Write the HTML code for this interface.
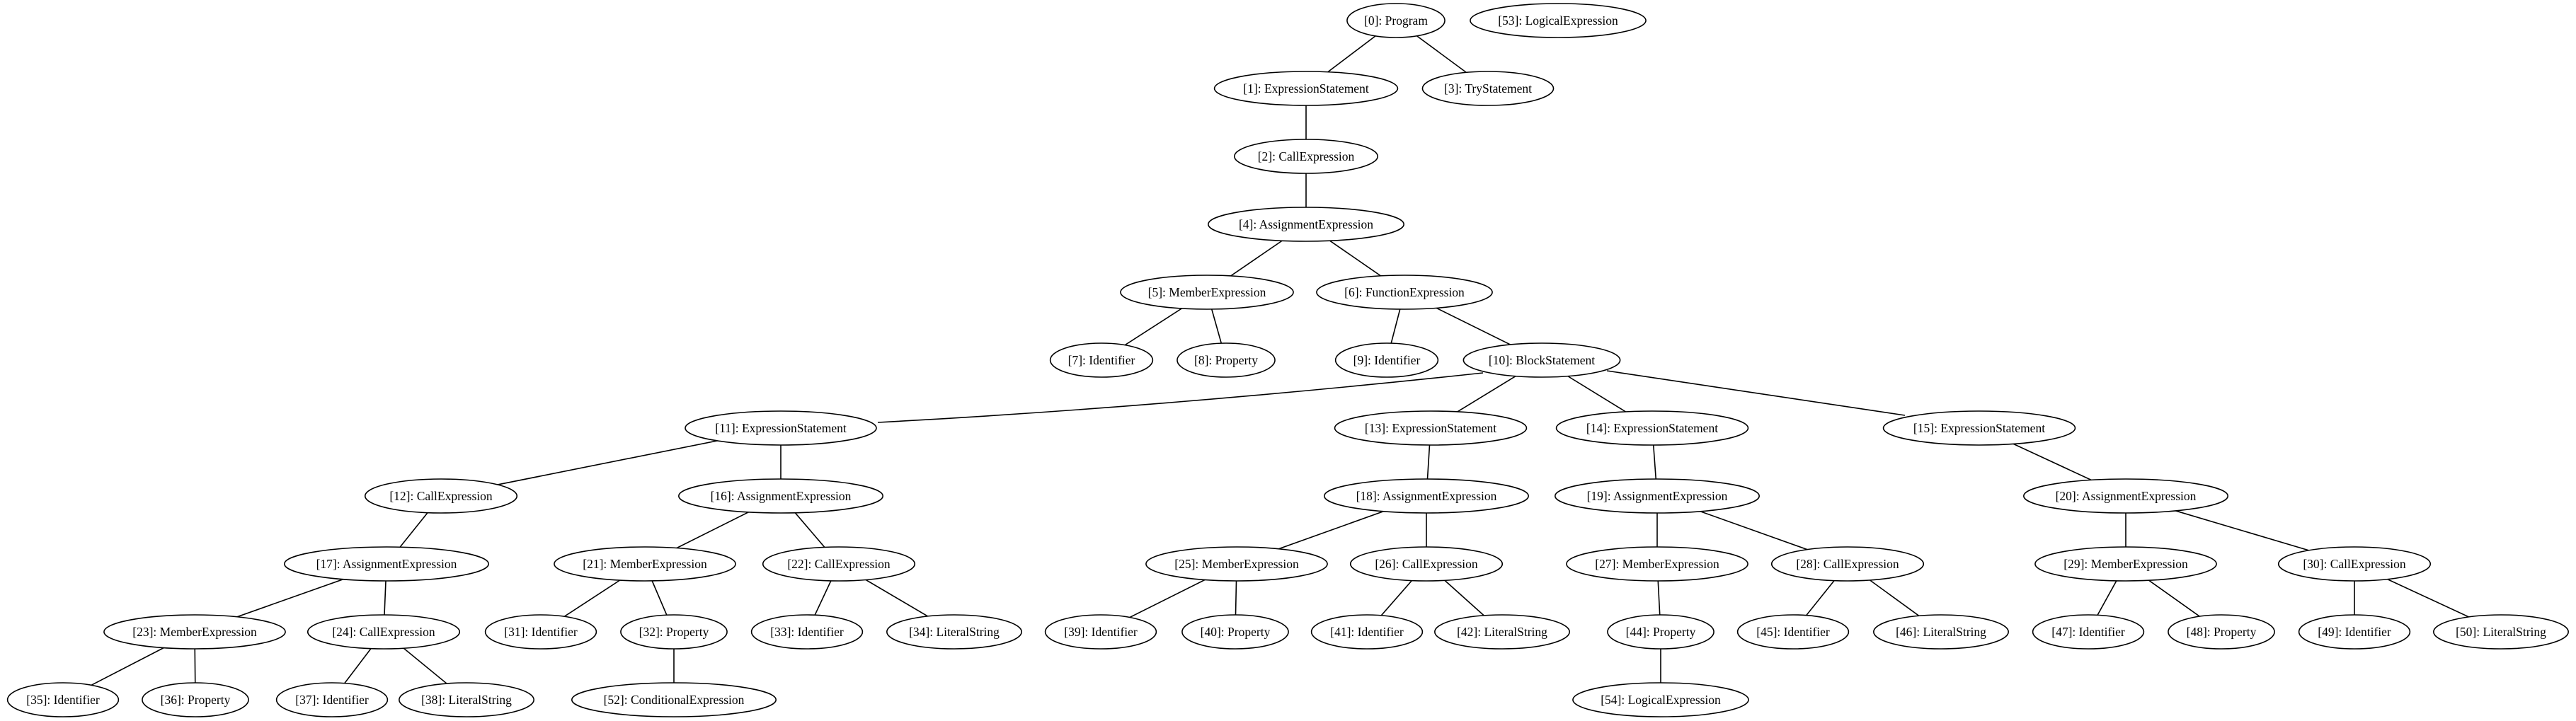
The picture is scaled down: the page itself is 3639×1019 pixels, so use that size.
<!DOCTYPE html>
<html><head><meta charset="utf-8"><style>
html,body{margin:0;padding:0;background:#fff;}
svg{display:block;}
text{font-family:"Liberation Serif","Times New Roman",serif;font-size:17.5px;fill:#000;}
</style></head><body>
<svg id="g" width="3639" height="1019" viewBox="0 0 3639 1019" xmlns="http://www.w3.org/2000/svg">
<rect width="3639" height="1019" fill="#fff"/>
<g id="edges" stroke="#000" stroke-width="1.6" fill="none">
<path d="M2095,527 Q1650,575 1240,597"/>
<path d="M2270,524 Q2480,555 2691,587"/>
</g>
<g id="nodes"></g>
</svg>
<script>
var N={
0:[1972,0,"Program"],53:[2201,0,"LogicalExpression"],
1:[1845,1,"ExpressionStatement"],3:[2102,1,"TryStatement"],
2:[1845,2,"CallExpression"],
4:[1845,3,"AssignmentExpression"],
5:[1705,4,"MemberExpression"],6:[1984,4,"FunctionExpression"],
7:[1556,5,"Identifier"],8:[1732,5,"Property"],9:[1959,5,"Identifier"],10:[2178,5,"BlockStatement"],
11:[1103,6,"ExpressionStatement"],13:[2021,6,"ExpressionStatement"],14:[2334,6,"ExpressionStatement"],15:[2796,6,"ExpressionStatement"],
12:[623,7,"CallExpression"],16:[1103,7,"AssignmentExpression"],18:[2015,7,"AssignmentExpression"],19:[2341,7,"AssignmentExpression"],20:[3003,7,"AssignmentExpression"],
17:[546,8,"AssignmentExpression"],21:[911,8,"MemberExpression"],22:[1185,8,"CallExpression"],25:[1747,8,"MemberExpression"],26:[2015,8,"CallExpression"],27:[2341,8,"MemberExpression"],28:[2610,8,"CallExpression"],29:[3003,8,"MemberExpression"],30:[3326,8,"CallExpression"],
23:[275,9,"MemberExpression"],24:[542,9,"CallExpression"],31:[764,9,"Identifier"],32:[952,9,"Property"],33:[1140,9,"Identifier"],34:[1348,9,"LiteralString"],39:[1555,9,"Identifier"],40:[1745,9,"Property"],41:[1931,9,"Identifier"],42:[2122,9,"LiteralString"],44:[2346,9,"Property"],45:[2533,9,"Identifier"],46:[2742,9,"LiteralString"],47:[2950,9,"Identifier"],48:[3138,9,"Property"],49:[3326,9,"Identifier"],50:[3533,9,"LiteralString"],
35:[89,10,"Identifier"],36:[276,10,"Property"],37:[469,10,"Identifier"],38:[659,10,"LiteralString"],52:[952,10,"ConditionalExpression"],54:[2346,10,"LogicalExpression"]
};
var E=[[0,1],[0,3],[1,2],[2,4],[4,5],[4,6],[5,7],[5,8],[6,9],[6,10],[10,13],[10,14],
[11,12],[11,16],[12,17],[16,21],[16,22],[13,18],[14,19],[15,20],[17,23],[17,24],[21,31],[21,32],[22,33],[22,34],
[18,25],[18,26],[19,27],[19,28],[20,29],[20,30],[23,35],[23,36],[24,37],[24,38],[32,52],[25,39],[25,40],[26,41],[26,42],
[27,44],[28,45],[28,46],[29,47],[29,48],[30,49],[30,50],[44,54]];
var NS="http://www.w3.org/2000/svg";
function Y(l){return 29+96*l;}
var eg=document.getElementById("edges"),ng=document.getElementById("nodes");
E.forEach(function(e){var a=N[e[0]],b=N[e[1]];var l=document.createElementNS(NS,"line");
l.setAttribute("x1",a[0]);l.setAttribute("y1",Y(a[1]));l.setAttribute("x2",b[0]);l.setAttribute("y2",Y(b[1]));eg.appendChild(l);});
Object.keys(N).forEach(function(k){var n=N[k];var el=document.createElementNS(NS,"ellipse");
var t=document.createElementNS(NS,"text");t.setAttribute("x",n[0]);t.setAttribute("y",Y(n[1])+6);t.setAttribute("text-anchor","middle");
t.textContent="["+k+"]: "+n[2];
el.setAttribute("cx",n[0]);el.setAttribute("cy",Y(n[1]));el.setAttribute("ry",24);el.setAttribute("fill","#fff");el.setAttribute("stroke","#000");el.setAttribute("stroke-width","1.6");
ng.appendChild(el);ng.appendChild(t);
var w=t.getComputedTextLength?t.getComputedTextLength():t.textContent.length*8.3;
if(!w)w=t.textContent.length*8.3;
el.setAttribute("rx",w*0.69+7);});
</script>
</body></html>
